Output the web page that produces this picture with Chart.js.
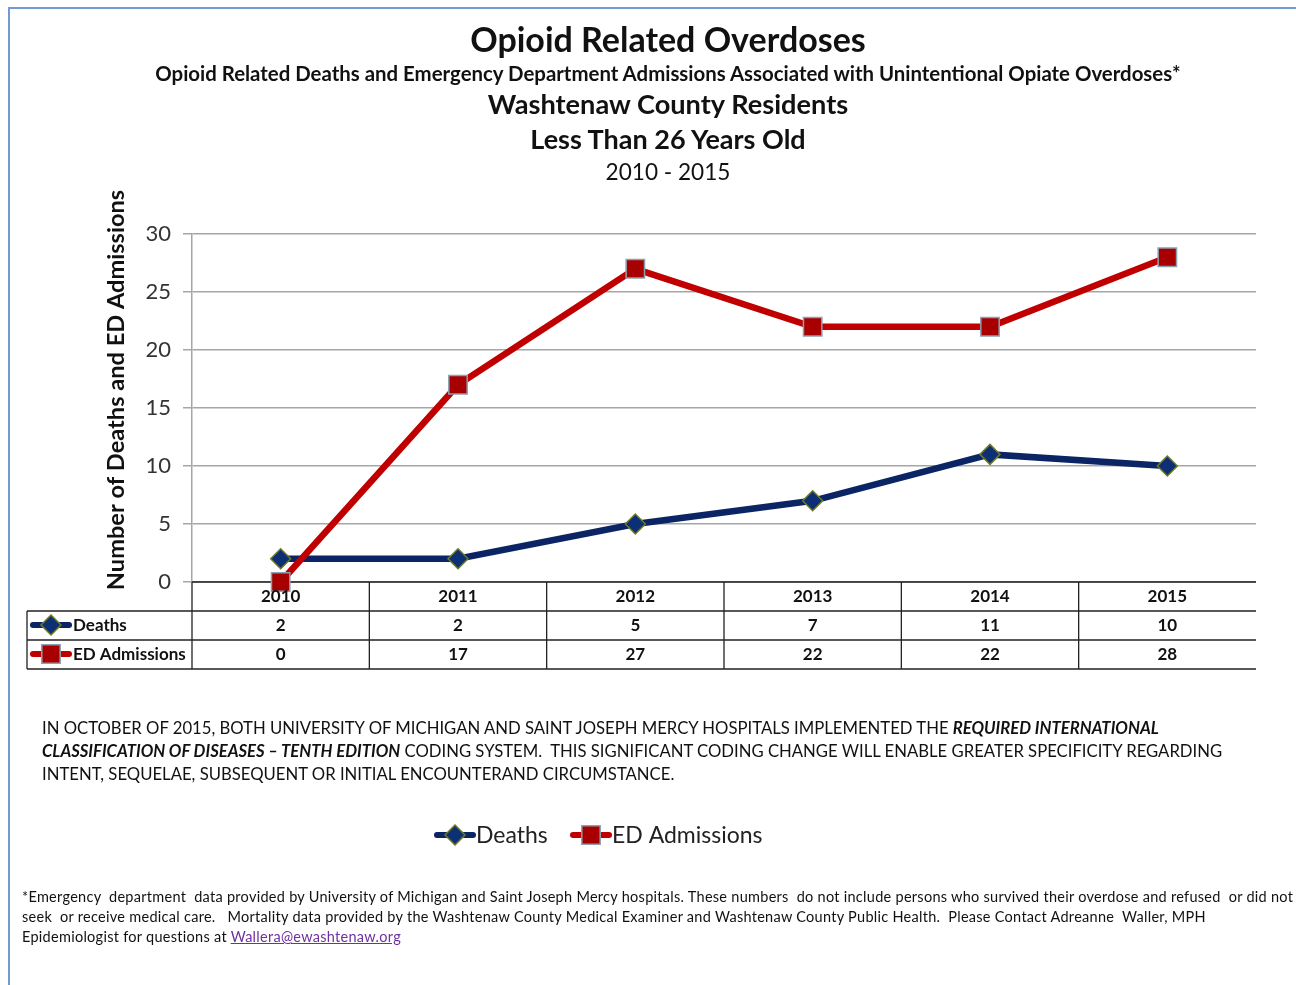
<!DOCTYPE html>
<html>
<head>
<meta charset="utf-8">
<script src="https://cdn.jsdelivr.net/npm/chart.js@4.4.1/dist/chart.umd.min.js"></script>
<style>
  body { margin: 0; background: #fff; font-family: Lato, "Noto Sans", sans-serif; color: #111; }
  #page { position: relative; width: 1296px; height: 985px; overflow: hidden; }
  #frame { position: absolute; left: 8px; top: 7px; width: 1400px; height: 1100px; border-left: 2px solid #6f9ad3; border-top: 2px solid #6f9ad3; }
  canvas { position: absolute; left: 0; top: 0; }
  .t { position: absolute; left: 68px; width: 1200px; text-align: center; white-space: nowrap; font-weight: bold; }
  #note { position: absolute; left: 42px; top: 717px; font-size: 16.7px; line-height: 23px; white-space: nowrap; }
  #foot { position: absolute; left: 22px; top: 887px; font-size: 14.5px; letter-spacing: 0.28px; line-height: 20px; white-space: nowrap; }
  #foot a { color: #7030a0; }
</style>
</head>
<body>
<div id="page">
  <div id="frame"></div>
  <canvas id="overdoseChart" width="1296" height="985"></canvas>
  <div class="t" style="top:19px;font-size:34px;line-height:40px;">Opioid Related Overdoses</div>
  <div class="t" style="top:60px;font-size:20.4px;line-height:26px;">Opioid Related Deaths and Emergency Department Admissions Associated with Unintentional Opiate Overdoses*</div>
  <div class="t" style="top:88px;font-size:27.2px;line-height:32px;">Washtenaw County Residents</div>
  <div class="t" style="top:123px;font-size:27px;line-height:32px;">Less Than 26 Years Old</div>
  <div class="t" style="top:158px;font-size:22.6px;line-height:28px;font-weight:normal;">2010 - 2015</div>
  <div id="note">IN OCTOBER OF 2015, BOTH UNIVERSITY OF MICHIGAN AND SAINT JOSEPH MERCY HOSPITALS IMPLEMENTED THE <b><i>REQUIRED INTERNATIONAL</i></b><br><b><i>CLASSIFICATION OF DISEASES – TENTH EDITION</i></b> CODING SYSTEM.&nbsp; THIS SIGNIFICANT CODING CHANGE WILL ENABLE GREATER SPECIFICITY REGARDING<br>INTENT, SEQUELAE, SUBSEQUENT OR INITIAL ENCOUNTERAND CIRCUMSTANCE.</div>
  <div id="foot">*Emergency&nbsp; department&nbsp; data provided by University of Michigan and Saint Joseph Mercy hospitals. These numbers&nbsp; do not include persons who survived their overdose and refused&nbsp; or did not<br>seek&nbsp; or receive medical care.&nbsp;&nbsp; Mortality data provided by the Washtenaw County Medical Examiner and Washtenaw County Public Health.&nbsp; Please Contact Adreanne&nbsp; Waller, MPH<br>Epidemiologist for questions at <a href="#">Wallera@ewashtenaw.org</a></div>
</div>
<script>
const years = ["2010", "2011", "2012", "2013", "2014", "2015"];
const deaths = [2, 2, 5, 7, 11, 10];
const edAdmissions = [0, 17, 27, 22, 22, 28];
const yTicks = [0, 5, 10, 15, 20, 25, 30];

const navy = "#0b2463";
const red = "#c00000";
const font = "Lato, 'Noto Sans', sans-serif";

// line + marker, used for the table rows and the legend under the note
function symbol(ctx, x, y, ds) {
  ctx.save();
  ctx.strokeStyle = ds.borderColor;
  ctx.lineWidth = 6;
  ctx.lineCap = "round";
  ctx.beginPath();
  ctx.moveTo(x - 18, y);
  ctx.lineTo(x + 18, y);
  ctx.stroke();
  ctx.fillStyle = ds.pointBackgroundColor;
  ctx.strokeStyle = ds.pointBorderColor;
  ctx.lineWidth = ds.pointBorderWidth;
  Chart.helpers.drawPoint(ctx, {
    pointStyle: ds.pointStyle,
    radius: ds.pointStyle === "rect" ? 13 : 10,
    borderWidth: ds.pointBorderWidth,
    rotation: 0
  }, x, y);
  ctx.restore();
}

const tablePlugin = {
  id: "dataTable",
  beforeDatasetsDraw(chart) {
    const ctx = chart.ctx;
    const x = chart.scales.x;
    const top = chart.chartArea.bottom;
    const left = chart.chartArea.left;
    const right = chart.chartArea.right;
    const half = (x.getPixelForValue(1) - x.getPixelForValue(0)) / 2;
    const rowH = 29;
    ctx.save();
    ctx.strokeStyle = "#222";
    ctx.lineWidth = 1.3;
    ctx.beginPath();
    ctx.moveTo(left, top); ctx.lineTo(right, top);
    for (let r = 1; r <= 3; r++) {
      ctx.moveTo(27, top + rowH * r); ctx.lineTo(right, top + rowH * r);
    }
    ctx.moveTo(27, top + rowH); ctx.lineTo(27, top + rowH * 3);
    years.forEach((y, i) => {
      const bx = x.getPixelForValue(i) - half;
      ctx.moveTo(bx, top); ctx.lineTo(bx, top + rowH * 3);
    });
    ctx.stroke();
    ctx.restore();
  },
  afterDraw(chart) {
    const ctx = chart.ctx;
    const x = chart.scales.x;
    const top = chart.chartArea.bottom;
    const rowH = 29;
    const sets = [chart.data.datasets[1], chart.data.datasets[0]];
    ctx.save();
    ctx.fillStyle = "#111";
    ctx.font = "bold 17px " + font;
    ctx.textAlign = "center";
    ctx.textBaseline = "middle";
    years.forEach((y, i) => {
      const cx = x.getPixelForValue(i);
      ctx.fillText(y, cx, top + 15);
      ctx.fillText(String(deaths[i]), cx, top + rowH + 15);
      ctx.fillText(String(edAdmissions[i]), cx, top + rowH * 2 + 15);
    });
    ctx.textAlign = "left";
    sets.forEach((ds, r) => {
      const cy = top + rowH * (r + 1) + 14;
      symbol(ctx, 51, cy, ds);
      ctx.fillStyle = "#111";
      ctx.fillText(ds.label, 73, cy + 1);
    });

    // y axis title
    ctx.save();
    ctx.translate(116, 390);
    ctx.rotate(-Math.PI / 2);
    ctx.textAlign = "center";
    ctx.font = "bold 23.6px " + font;
    ctx.fillText("Number of Deaths and ED Admissions", 0, 0);
    ctx.restore();

    // bottom legend
    ctx.font = "23px " + font;
    ctx.fillStyle = "#222";
    symbol(ctx, 455, 835, sets[0]);
    ctx.fillText(sets[0].label, 476, 836);
    symbol(ctx, 591, 835, sets[1]);
    ctx.fillText(sets[1].label, 612, 836);
    ctx.restore();
  }
};

new Chart(document.getElementById("overdoseChart"), {
  type: "line",
  data: {
    labels: years,
    datasets: [
      {
        label: "ED Admissions",
        data: edAdmissions,
        borderColor: red,
        borderWidth: 6.5,
        pointStyle: "rect",
        pointRadius: 13,
        pointBackgroundColor: "#a80000",
        pointBorderColor: "#8da0b0",
        pointBorderWidth: 1.5,
        clip: false,
        order: 0
      },
      {
        label: "Deaths",
        data: deaths,
        borderColor: navy,
        borderWidth: 6.5,
        pointStyle: "rectRot",
        pointRadius: 10,
        pointBackgroundColor: "#0d2f73",
        pointBorderColor: "#6e7a22",
        pointBorderWidth: 1.5,
        clip: false,
        order: 1
      }
    ]
  },
  options: {
    responsive: false,
    animation: false,
    events: [],
    layout: { padding: { left: 100, right: 40, top: 234, bottom: 403 } },
    plugins: { legend: { display: false }, title: { display: false }, tooltip: { enabled: false } },
    scales: {
      x: { display: false, offset: true },
      y: {
        min: 0,
        max: 30,
        afterBuildTicks: (scale) => { scale.ticks = yTicks.map((v) => ({ value: v })); },
        afterFit: (scale) => { scale.width = 92; },
        grid: { color: "#a6a6a6", lineWidth: 1.5, tickLength: 9 },
        border: { color: "#a6a6a6", width: 1.5 },
        ticks: { padding: 12, color: "#333", font: { family: font, size: 22 } }
      }
    }
  },
  plugins: [tablePlugin]
});
</script>
</body>
</html>
